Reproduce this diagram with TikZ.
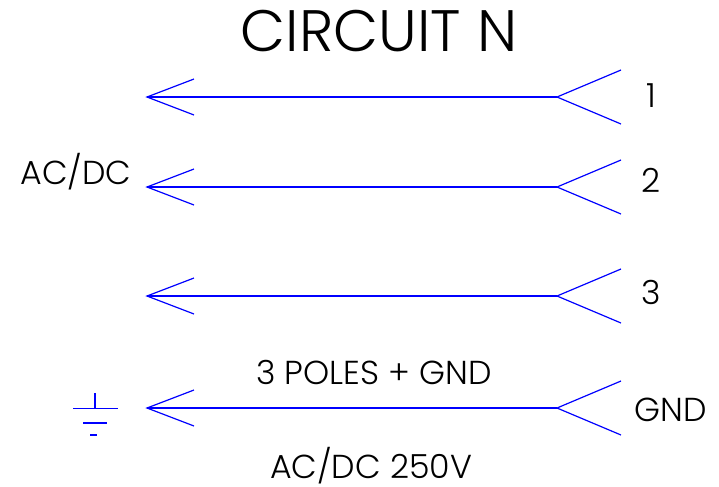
\documentclass[tikz,border=0pt]{standalone}
\usepackage{fontspec}
\setmainfont{Poppins Light}
\newcommand{\px}{0.0264583}
\definecolor{wireblue}{RGB}{0,0,255}
\tikzset{
  wire/.style={draw=wireblue,line width=0.9pt},
  lbl/.style={inner sep=0pt,text=black,font=\fontsize{25}{25}\selectfont},
  pin/.style={inner sep=0pt,minimum size=0pt}
}
\newcommand{\fork}[2]{%
  \coordinate (#1L) at (147,#2);
  \coordinate (#1R) at (557,#2);
  \coordinate (#1a) at (194,#2-18);
  \coordinate (#1b) at (194,#2+18);
  \coordinate (#1c) at (621,#2-27);
  \coordinate (#1d) at (621,#2+27);
  \draw[wire] (#1L)--(#1R);
  \draw[wire] (#1a)--(#1L)--(#1b);
  \draw[wire] (#1c)--(#1R)--(#1d);
}
\begin{document}
\begin{tikzpicture}[x=\px cm,y=-\px cm]
\useasboundingbox (0,0) rectangle (719,486);
\node[lbl,font=\fontsize{44}{44}\selectfont] (title) at (379,31) {CIRCUIT N};
\fork{A}{97}
\fork{B}{187}
\fork{C}{296}
\fork{D}{408}
\node[lbl] (n1) at (651,96) {1};
\node[lbl] (n2) at (651,180) {2};
\node[lbl] (n3) at (651,292) {3};
\node[lbl] (ngnd) at (671,410) {GND};
\node[lbl] (ac) at (76,172) {AC/DC};
\node[lbl] (poles) at (374,372) {3 POLES + GND};
\node[lbl] (volt) at (371,466) {AC/DC 250V};
\coordinate (g0) at (95,393);
\coordinate (g1) at (95,408);
\draw[wire] (g0)--(g1);
\draw[wire] (73,408.5)--(118,408.5);
\draw[wire] (83,423)--(107,423);
\draw[wire] (90,435)--(97,435);
\end{tikzpicture}
\end{document}
